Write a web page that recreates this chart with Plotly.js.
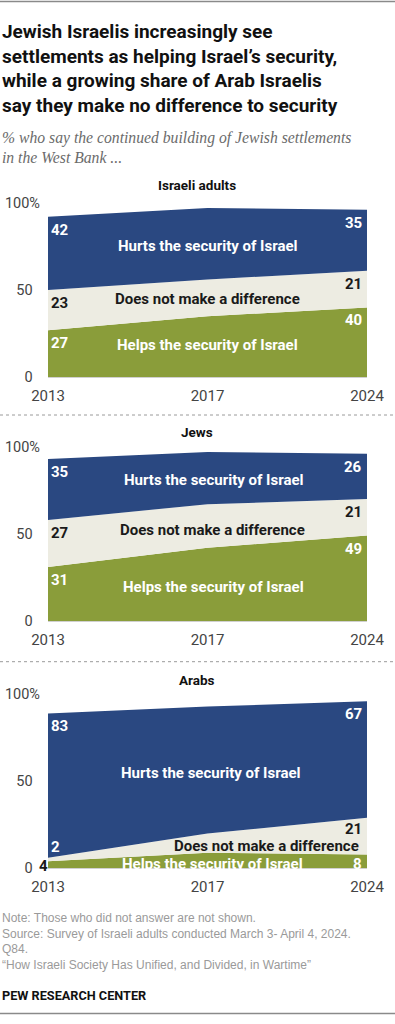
<!DOCTYPE html>
<html>
<head>
<meta charset="utf-8">
<script src="https://cdn.plot.ly/plotly-3.0.1.min.js"></script>
<style>
  html, body { margin: 0; padding: 0; background: #ffffff; }
  #chart { width: 395px; height: 1024px; }
</style>
</head>
<body>
<div id="chart"></div>
<script>
// ---------- DATA ----------
const years = ['2013', '2017', '2024'];

const adultsHelps  = [27, 35, 40];
const adultsNoDiff = [23, 21, 21];
const adultsHurts  = [42, 41, 35];

const jewsHelps  = [31, 42, 49];
const jewsNoDiff = [27, 25, 21];
const jewsHurts  = [35, 30, 26];

const arabsHelps  = [4, 9, 8];
const arabsNoDiff = [2, 11, 21];
const arabsHurts  = [83, 73, 67];

const seriesNames = ['Helps the security of Israel', 'Does not make a difference', 'Hurts the security of Israel'];
const panelTitles = ['Israeli adults', 'Jews', 'Arabs'];
const yTickVals = [0, 50, 100];
const yTickText = ['0\u2002', '50\u2002', '100%'];

// ---------- STYLE ----------
const W = 395, H = 1024, ML = 48, MR = 28;
const PW = W - ML - MR;
const GREEN = '#8a9d3a', BEIGE = '#edece2', BLUE = '#2a4881';
const fillColors = [GREEN, BEIGE, BLUE];
const labelColors = ['#ffffff', '#1a1a1a', '#ffffff'];
const SANS = 'Roboto, "Liberation Sans", Arial, sans-serif';
const NOTE = '"Liberation Sans", Arial, sans-serif';
const SERIF = '"Liberation Serif", Georgia, serif';

const px2x = px => (px - ML) / PW;
const py2y = py => 1 - py / H;

// panel geometry (pixel y of value 0 and value 100)
const panelsGeom = [
  {zero: 377.3, hundred: 202.7, title: 185},
  {zero: 621.0, hundred: 446.7, title: 431.7},
  {zero: 868.3, hundred: 694.3, title: 680}
];

const panelsData = [
  [adultsHelps, adultsNoDiff, adultsHurts],
  [jewsHelps, jewsNoDiff, jewsHurts],
  [arabsHelps, arabsNoDiff, arabsHurts]
];

// in-area label positions (category index, value)
const areaLabelPos = [
  [[1.0, 18.5], [1.0, 45], [1.0, 75]],
  [[1.04, 19.7], [1.03, 52.2], [1.04, 81]],
  [[1.03, 2.4], [1.37, 12.8], [1.02, 55]]
];

const traces = [];
const annotations = [];
const layout = {
  width: W, height: H,
  margin: {l: ML, r: MR, t: 0, b: 0, pad: 0},
  paper_bgcolor: '#ffffff', plot_bgcolor: '#ffffff',
  showlegend: false,
  hovermode: false,
  font: {family: SANS, color: '#444'},
  shapes: [],
  annotations: annotations
};

panelsData.forEach((series, p) => {
  const sfx = p === 0 ? '' : String(p + 1);
  const xa = 'x' + sfx, ya = 'y' + sfx;
  const g = panelsGeom[p];

  series.forEach((vals, s) => {
    traces.push({
      type: 'scatter', x: years, y: vals,
      xaxis: xa, yaxis: ya,
      stackgroup: 'g' + p, mode: 'none',
      fillcolor: fillColors[s], line: {width: 0},
      name: seriesNames[s], hoverinfo: 'skip'
    });
  });

  layout['xaxis' + sfx] = {
    domain: [0, 1], anchor: ya, type: 'category', range: [0, 2],
    showgrid: false, zeroline: false, showline: true, linecolor: '#d0d0d0', linewidth: 1,
    ticks: '', ticklabelstandoff: 5,
    tickfont: {family: SANS, size: 15, color: '#444'}, fixedrange: true
  };
  layout['yaxis' + sfx] = {
    domain: [py2y(g.zero), py2y(g.hundred)], anchor: xa, range: [0, 100],
    tickvals: yTickVals, ticktext: yTickText,
    showgrid: false, zeroline: false, showline: false, ticks: '',
    ticklabelstandoff: 7,
    tickfont: {family: SANS, size: 14.5, color: '#444'}, fixedrange: true
  };

  // panel title
  annotations.push({
    xref: 'paper', yref: 'paper', x: px2x(197), y: py2y(g.title),
    xanchor: 'center', yanchor: 'middle', showarrow: false,
    text: '<b>' + panelTitles[p] + '</b>',
    font: {family: SANS, size: 13.5, color: '#111'}
  });

  // value labels at first and last year
  [0, 2].forEach(i => {
    let cum = 0;
    series.forEach((vals, s) => {
      cum += vals[i];
      const a = {
        xref: xa, yref: ya, x: i, y: cum,
        xanchor: i === 0 ? 'left' : 'right', yanchor: 'top',
        xshift: i === 0 ? 2 : -4, yshift: -3, borderpad: 0,
        showarrow: false, text: '<b>' + vals[i] + '</b>',
        font: {family: SANS, size: 15, color: labelColors[s]}
      };
      if (p === 2 && s === 0) {
        // thin band: centre the label in it
        a.yanchor = 'middle'; a.y = vals[i] / 2; a.yshift = i === 2 ? -2.8 : -1;
      }
      if (p === 2 && i === 2 && s === 1) {
        a.yshift = -1.5;
      }
      if (p === 2 && i === 0 && s === 1) {
        a.yanchor = 'bottom'; a.yshift = 1; a.font.color = '#ffffff';
      }
      if (p === 2 && i === 0 && s === 0) {
        a.xanchor = 'right'; a.xshift = 0.5; a.font.color = '#1a1a1a';
      }
      annotations.push(a);
    });
  });

  // in-area series labels
  series.forEach((vals, s) => {
    const pos = areaLabelPos[p][s];
    annotations.push({
      xref: xa, yref: ya, x: pos[0], y: pos[1],
      xanchor: 'center', yanchor: 'middle', showarrow: false, borderpad: 0,
      text: '<b>' + seriesNames[s] + '</b>',
      font: {family: SANS, size: 15, color: labelColors[s]}
    });
  });
});

// separators
[415, 661.7].forEach(py => {
  layout.shapes.push({
    type: 'line', xref: 'paper', yref: 'paper',
    x0: px2x(0), x1: px2x(W), y0: py2y(py), y1: py2y(py),
    line: {color: '#9a9a9a', width: 1, dash: 'dot'}
  });
});
// top / bottom rules
[1.5, 1013.5].forEach(py => {
  layout.shapes.push({
    type: 'line', xref: 'paper', yref: 'paper',
    x0: px2x(0), x1: px2x(W), y0: py2y(py), y1: py2y(py),
    line: {color: '#8a8a8a', width: 1.5}
  });
});

// title
annotations.push({
  xref: 'paper', yref: 'paper', x: px2x(0), y: py2y(68.4),
  xanchor: 'left', yanchor: 'middle', align: 'left', showarrow: false,
  text: '<b>Jewish Israelis increasingly see<br>settlements as helping Israel\u2019s security,<br>while a growing share of Arab Israelis<br>say they make no difference to security</b>',
  font: {family: SANS, size: 19, color: '#111'}
});
// subtitle
annotations.push({
  xref: 'paper', yref: 'paper', x: px2x(0), y: py2y(147),
  xanchor: 'left', yanchor: 'middle', align: 'left', showarrow: false,
  text: '<i>% who say the continued building of Jewish settlements<br>in the West Bank ...</i>',
  font: {family: SERIF, size: 15.7, color: '#6b6b6b'}
});
// notes
annotations.push({
  xref: 'paper', yref: 'paper', x: px2x(0), y: py2y(941),
  xanchor: 'left', yanchor: 'middle', align: 'left', showarrow: false,
  text: 'Note: Those who did not answer are not shown.<br>Source: Survey of Israeli adults conducted March 3- April 4, 2024.<br>Q84.<br>\u201cHow Israeli Society Has Unified, and Divided, in Wartime\u201d',
  font: {family: NOTE, size: 12, color: '#9a9a9a'}
});
annotations.push({
  xref: 'paper', yref: 'paper', x: px2x(0), y: py2y(995),
  xanchor: 'left', yanchor: 'middle', align: 'left', showarrow: false,
  text: '<b>PEW RESEARCH CENTER</b>',
  font: {family: SANS, size: 12.7, color: '#111'}
});

Plotly.newPlot('chart', traces, layout, {staticPlot: true, displayModeBar: false});
</script>
</body>
</html>
